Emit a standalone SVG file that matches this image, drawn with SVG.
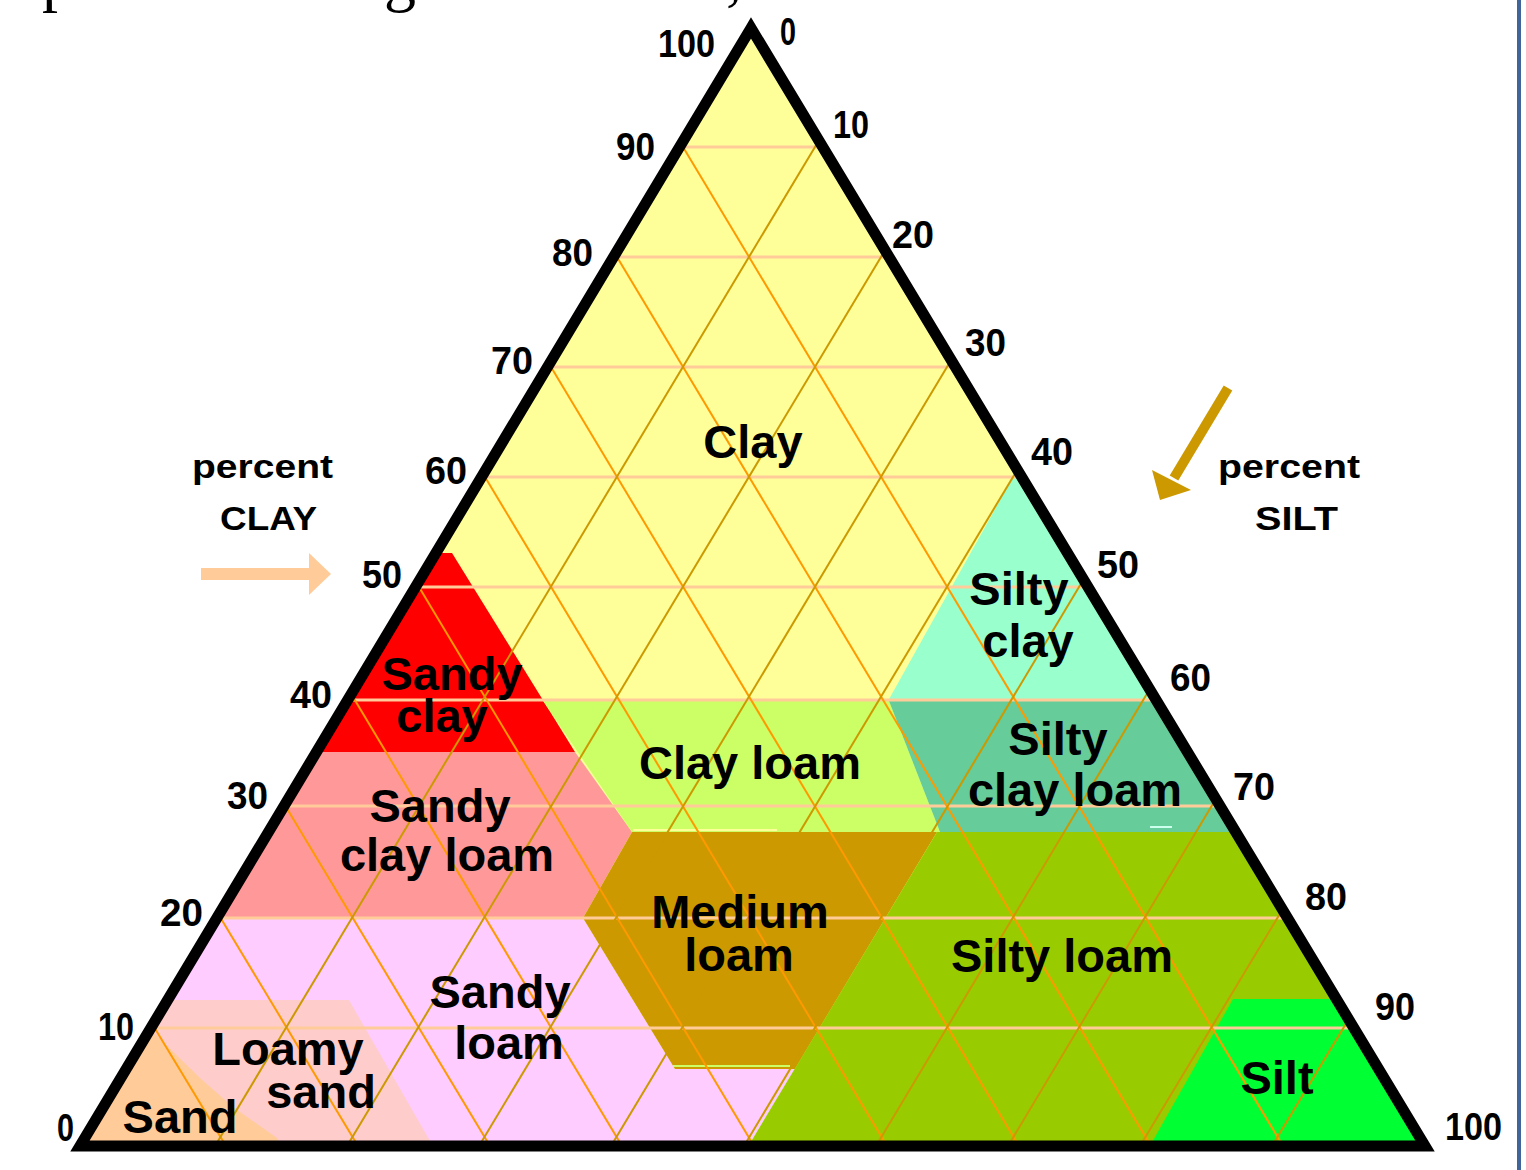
<svg xmlns="http://www.w3.org/2000/svg" width="1526" height="1170" viewBox="0 0 1526 1170">
<style>
.lbl{font-family:"Liberation Sans",Arial,sans-serif;font-weight:bold;font-size:47px;fill:#000;text-anchor:middle}
.num{font-family:"Liberation Sans",Arial,sans-serif;font-weight:bold;font-size:38px;fill:#000}
.ax{font-family:"Liberation Sans",Arial,sans-serif;font-weight:bold;font-size:34px;fill:#000}
.hl{stroke:#FFCC99;stroke-width:3}
.dr{stroke:#FF9900;stroke-width:2}
.dl{stroke:#CC9900;stroke-width:2}
.top{font-family:"Liberation Serif","Times New Roman",serif;font-size:64px;fill:#000}
</style>
<defs>
<clipPath id="tri"><polygon points="751,28 80,1146 1425,1146"/></clipPath>
</defs>
<rect width="1526" height="1170" fill="#fff"/>
<text class="top" x="42" y="-1">p</text>
<text class="top" x="384" y="-1">g</text>
<text class="top" x="726" y="-1">,</text>
<rect x="1517" y="0" width="4" height="1170" fill="#41659A"/>

<g clip-path="url(#tri)">
 <g id="clay"><rect x="0" y="0" width="1526" height="1170" fill="#FFFF99"/></g>
 <g id="sandy-clay"><polygon points="300,553 452,553 575,752 200,752" fill="#FF0000"/></g>
 <g id="sandy-clay-loam"><polygon points="200,752 575,752 632,832 583,918 100,918" fill="#FF9999"/></g>
 <g id="clay-loam"><polygon points="543,701 889,701 940,832 632,832" fill="#CCFF66"/></g>
 <g id="silty-clay"><polygon points="1013,477 1300,477 1300,701 888,701" fill="#99FFCC"/></g>
 <g id="silty-clay-loam"><polygon points="889,701 1300,701 1300,832 940,832" fill="#66CC99"/></g>
 <g id="sandy-loam"><polygon points="0,918 583,918 675,1069 795,1069 740,1160 0,1160" fill="#FFCCFF"/></g>
 <g id="medium-loam"><polygon points="632,832 937,832 795,1069 675,1069 583,918" fill="#CC9900"/>
  <rect x="633" y="829" width="144" height="2" fill="#FFFF99"/>
  <rect x="673" y="1065" width="117" height="2" fill="#CCFF66"/>
 </g>
 <g id="silty-loam"><polygon points="937,832 1500,832 1500,1160 740,1160" fill="#99CC00"/></g>
 <g id="silt"><polygon points="1233,999 1500,999 1500,1160 1142,1160" fill="#00FF33"/></g>
 <g id="loamy-sand"><polygon points="0,1000 349,1000 441,1160 0,1160" fill="#FFCCCC"/></g>
 <g id="sand"><polygon points="0,1033 154,1033 200,1078 233,1107 277,1138 290,1160 0,1160" fill="#FFCC99"/></g>
 <rect x="1150" y="826" width="22" height="2" fill="#CCFFEE"/>

 <g id="connectors">
  <g class="hl">
   <line x1="0" y1="147" x2="1526" y2="147"/>
   <line x1="0" y1="257" x2="1526" y2="257"/>
   <line x1="0" y1="367" x2="1526" y2="367"/>
   <line x1="0" y1="477" x2="1526" y2="477"/>
   <line x1="0" y1="587" x2="1526" y2="587"/>
   <line x1="0" y1="700" x2="1526" y2="700"/>
   <line x1="0" y1="806" x2="1526" y2="806"/>
   <line x1="0" y1="918" x2="1526" y2="918"/>
   <line x1="0" y1="1028" x2="1526" y2="1028"/>
  </g>
  <g class="dr">
   <line x1="680" y1="142" x2="1283" y2="1146"/>
   <line x1="614" y1="252" x2="1151" y2="1146"/>
   <line x1="548" y1="362" x2="1019" y2="1146"/>
   <line x1="482" y1="472" x2="887" y2="1146"/>
   <line x1="416" y1="582" x2="754" y2="1146"/>
   <line x1="350" y1="692" x2="622" y2="1146"/>
   <line x1="283" y1="802" x2="490" y2="1146"/>
   <line x1="217" y1="912" x2="358" y2="1146"/>
   <line x1="151" y1="1022" x2="226" y2="1146"/>
  </g>
  <g class="dl">
   <line x1="818" y1="142" x2="215" y2="1146"/>
   <line x1="884" y1="252" x2="347" y2="1146"/>
   <line x1="950" y1="362" x2="479" y2="1146"/>
   <line x1="1016" y1="472" x2="611" y2="1146"/>
   <line x1="1082" y1="582" x2="744" y2="1146"/>
   <line x1="1148" y1="692" x2="876" y2="1146"/>
   <line x1="1214" y1="802" x2="1008" y2="1146"/>
   <line x1="1281" y1="912" x2="1140" y2="1146"/>
   <line x1="1347" y1="1022" x2="1272" y2="1146"/>
  </g>
 </g>
</g>

<g id="outline"><polygon points="751,28 80,1146 1425,1146" fill="none" stroke="#000" stroke-width="11" stroke-linejoin="miter" stroke-miterlimit="10"/></g>

<g id="labels">
 <text class="lbl" x="753" y="458">Clay</text>
 <text class="lbl" x="1019" y="605">Silty</text>
 <text class="lbl" x="1028" y="657">clay</text>
 <text class="lbl" x="452" y="690">Sandy</text>
 <text class="lbl" x="442" y="732">clay</text>
 <text class="lbl" x="750" y="779">Clay loam</text>
 <text class="lbl" x="1058" y="755">Silty</text>
 <text class="lbl" x="1075" y="806">clay loam</text>
 <text class="lbl" x="440" y="822">Sandy</text>
 <text class="lbl" x="447" y="871">clay loam</text>
 <text class="lbl" x="740" y="928">Medium</text>
 <text class="lbl" x="739" y="971">loam</text>
 <text class="lbl" x="1062" y="972">Silty loam</text>
 <text class="lbl" x="500" y="1008">Sandy</text>
 <text class="lbl" x="509" y="1059">loam</text>
 <text class="lbl" x="288" y="1065">Loamy</text>
 <text class="lbl" x="321" y="1108">sand</text>
 <text class="lbl" x="180" y="1133">Sand</text>
 <text class="lbl" x="1277" y="1094">Silt</text>
</g>

<g id="clay-scale">
 <text class="num" x="658" y="57" textLength="57" lengthAdjust="spacingAndGlyphs">100</text>
 <text class="num" x="616" y="160" textLength="39" lengthAdjust="spacingAndGlyphs">90</text>
 <text class="num" x="552" y="266" textLength="41" lengthAdjust="spacingAndGlyphs">80</text>
 <text class="num" x="491" y="374" textLength="42" lengthAdjust="spacingAndGlyphs">70</text>
 <text class="num" x="425" y="484" textLength="42" lengthAdjust="spacingAndGlyphs">60</text>
 <text class="num" x="362" y="588" textLength="40" lengthAdjust="spacingAndGlyphs">50</text>
 <text class="num" x="290" y="708" textLength="42" lengthAdjust="spacingAndGlyphs">40</text>
 <text class="num" x="227" y="809" textLength="41" lengthAdjust="spacingAndGlyphs">30</text>
 <text class="num" x="160" y="926" textLength="43" lengthAdjust="spacingAndGlyphs">20</text>
 <text class="num" x="98" y="1040" textLength="36" lengthAdjust="spacingAndGlyphs">10</text>
 <text class="num" x="57" y="1141" textLength="17" lengthAdjust="spacingAndGlyphs">0</text>
</g>
<g id="silt-scale">
 <text class="num" x="780" y="45" textLength="16" lengthAdjust="spacingAndGlyphs">0</text>
 <text class="num" x="833" y="138" textLength="36" lengthAdjust="spacingAndGlyphs">10</text>
 <text class="num" x="892" y="248" textLength="42" lengthAdjust="spacingAndGlyphs">20</text>
 <text class="num" x="965" y="356" textLength="41" lengthAdjust="spacingAndGlyphs">30</text>
 <text class="num" x="1031" y="465" textLength="42" lengthAdjust="spacingAndGlyphs">40</text>
 <text class="num" x="1097" y="578" textLength="42" lengthAdjust="spacingAndGlyphs">50</text>
 <text class="num" x="1170" y="691" textLength="41" lengthAdjust="spacingAndGlyphs">60</text>
 <text class="num" x="1233" y="800" textLength="42" lengthAdjust="spacingAndGlyphs">70</text>
 <text class="num" x="1305" y="910" textLength="42" lengthAdjust="spacingAndGlyphs">80</text>
 <text class="num" x="1375" y="1020" textLength="40" lengthAdjust="spacingAndGlyphs">90</text>
 <text class="num" x="1445" y="1140" textLength="57" lengthAdjust="spacingAndGlyphs">100</text>
</g>

<g id="clay-axis">
 <text class="ax" x="192" y="478" textLength="141" lengthAdjust="spacingAndGlyphs">percent</text>
 <text class="ax" x="220" y="530" textLength="97" lengthAdjust="spacingAndGlyphs">CLAY</text>
 <rect x="201" y="568" width="110" height="12" fill="#FFCC99"/>
 <polygon points="309,553 331,574 309,595" fill="#FFCC99"/>
</g>
<g id="silt-axis">
 <text class="ax" x="1218" y="478" textLength="142" lengthAdjust="spacingAndGlyphs">percent</text>
 <text class="ax" x="1255" y="530" textLength="83" lengthAdjust="spacingAndGlyphs">SILT</text>
 <line x1="1228" y1="388" x2="1174" y2="478" stroke="#CC9900" stroke-width="10"/>
 <polygon points="1152,470 1191,490 1160,500" fill="#CC9900"/>
</g>
</svg>
